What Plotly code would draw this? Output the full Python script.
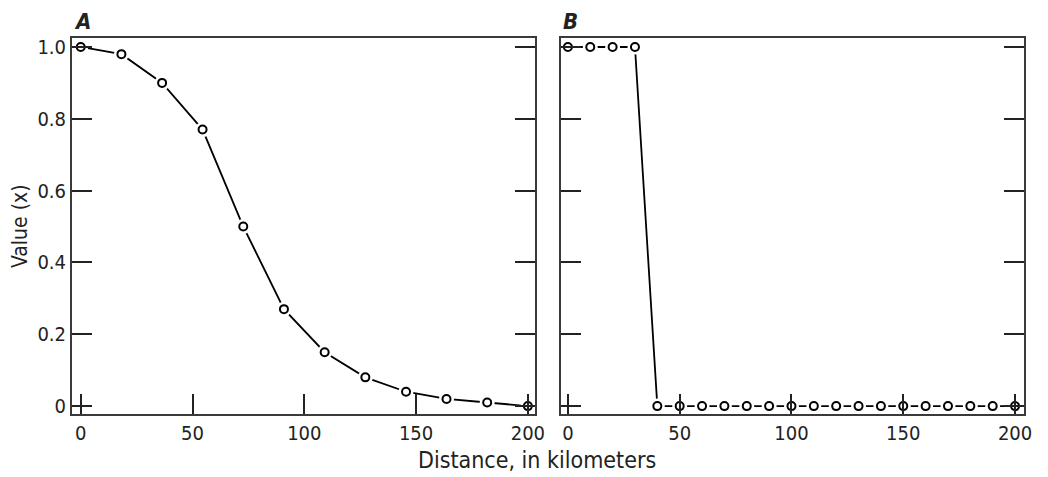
import plotly.graph_objects as go
from plotly.subplots import make_subplots

# Panel A: smooth decline
dist_a = [0, 18.2, 36.4, 54.5, 72.7, 90.9, 109.1, 127.3, 145.5, 163.6, 181.8, 200]
val_a = [1.0, 0.98, 0.90, 0.77, 0.50, 0.27, 0.15, 0.08, 0.04, 0.02, 0.01, 0.0]

# Panel B: step drop
dist_b = [0, 10, 20, 30, 40, 50, 60, 70, 80, 90, 100, 110, 120, 130, 140,
          150, 160, 170, 180, 190, 200]
val_b = [1, 1, 1, 1, 0, 0, 0, 0, 0, 0, 0, 0, 0, 0, 0, 0, 0, 0, 0, 0, 0]

y_ticks = [0, 0.2, 0.4, 0.6, 0.8, 1.0]
y_labels = ["0", "0.2", "0.4", "0.6", "0.8", "1.0"]
x_ticks = [0, 50, 100, 150, 200]

FONT = "DejaVu Sans Condensed, Liberation Sans Narrow, Roboto, sans-serif"
FRAME = "#3a3a3a"

fig = make_subplots(rows=1, cols=2, horizontal_spacing=0.0263)

for col, (xs, ys) in enumerate([(dist_a, val_a), (dist_b, val_b)], start=1):
    # connecting line
    fig.add_trace(go.Scatter(x=xs, y=ys, mode="lines",
                             line=dict(color="black", width=1.8),
                             hoverinfo="skip", showlegend=False), row=1, col=col)
    # white halo so the line stops short of each circle
    fig.add_trace(go.Scatter(x=xs, y=ys, mode="markers",
                             marker=dict(symbol="circle", size=15, color="white",
                                         line=dict(width=0)),
                             hoverinfo="skip", showlegend=False), row=1, col=col)
    # open circles
    fig.add_trace(go.Scatter(x=xs, y=ys, mode="markers",
                             marker=dict(symbol="circle", size=8, color="white",
                                         line=dict(color="black", width=2)),
                             showlegend=False), row=1, col=col)

axis_common = dict(showgrid=False, zeroline=False, showline=True, linecolor=FRAME,
                   linewidth=2, ticks="inside", ticklen=20, tickwidth=1.5,
                   tickcolor="#222", tickfont=dict(family=FONT, size=20, color="#222"))

fig.update_xaxes(**axis_common, mirror=True, tickvals=x_ticks, ticktext=[str(t) for t in x_ticks])
fig.update_xaxes(range=[-3.9, 203.4], row=1, col=1)
fig.update_xaxes(range=[-3.3, 204.0], row=1, col=2)

fig.update_yaxes(**axis_common, mirror="allticks", range=[-0.022, 1.025], tickvals=y_ticks)
fig.update_yaxes(ticktext=y_labels, row=1, col=1)
fig.update_yaxes(showticklabels=False, row=1, col=2)

fig.add_annotation(text="Distance, in kilometers", xref="paper", yref="paper",
                   x=0.488, y=-0.122, xanchor="center", yanchor="middle", showarrow=False,
                   font=dict(family=FONT, size=23, color="#222"))
fig.add_annotation(text="Value (x)", xref="paper", yref="paper", textangle=-90,
                   x=-0.0546, y=0.5, xanchor="center", yanchor="middle", showarrow=False,
                   font=dict(family=FONT, size=21, color="#222"))
fig.add_annotation(text="<b><i>A</i></b>", xref="paper", yref="paper",
                   x=0.0, y=1.045, xanchor="left", yanchor="middle", showarrow=False,
                   font=dict(family=FONT, size=22, color="#222"))
fig.add_annotation(text="<b><i>B</i></b>", xref="paper", yref="paper",
                   x=0.5137, y=1.045, xanchor="left", yanchor="middle", showarrow=False,
                   font=dict(family=FONT, size=22, color="#222"))

# the page body adds an 8 px offset, so the figure is sized to fit inside the window
fig.update_layout(width=1040, height=469, margin=dict(l=64, r=24, t=30, b=63),
                  plot_bgcolor="white", paper_bgcolor="white")

fig.write_html("out.html")
